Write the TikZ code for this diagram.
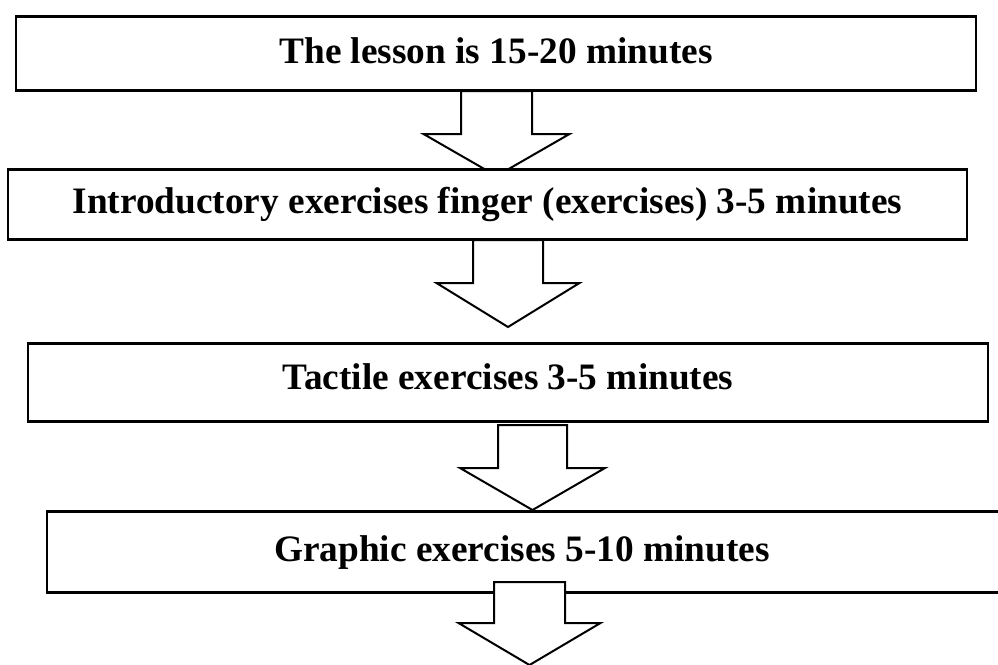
\documentclass[tikz,border=0pt]{standalone}
\usepackage{fontspec}
\setmainfont{Liberation Serif}
\begin{document}
\begin{tikzpicture}[x=1pt,y=-1pt,
  box/.style={draw=black, fill=white, line width=2.6pt, inner sep=0pt},
  lbl/.style={anchor=base, inner sep=0pt, font=\fontsize{37.3}{42}\selectfont\bfseries},
  blockarrow/.style={draw=black, fill=white, line width=2pt, line join=miter}]
\clip (0,0) rectangle (998,664);
\fill[white] (0,0) rectangle (998,664);
% arrows beneath boxes
\newcommand{\barrow}[7]{% cx, top, shoulder, tip, shafthalf, headhalf, name
  \draw[blockarrow] (#1-#5,#2) -- (#1-#5,#3) -- (#1-#6,#3) -- (#1,#4) -- (#1+#6,#3) -- (#1+#5,#3) -- (#1+#5,#2) -- cycle;
  \coordinate (#7) at (#1,#4);}
\barrow{496.5}{91}{134}{176}{35.5}{73}{a1}
\barrow{508}{240}{283}{327}{35}{71.5}{a2}
\barrow{532.5}{425}{468}{510}{34.5}{72.5}{a3}
% boxes
\node[box, minimum width=960pt, minimum height=74pt] (b1) at (496,53.5) {};
\node[box, minimum width=959pt, minimum height=70pt] (b2) at (487.5,204.5) {};
\node[box, minimum width=960pt, minimum height=78pt] (b3) at (508,382.5) {};
\node[box, minimum width=980pt, minimum height=81pt] (b4) at (537,552) {};
% last arrow over box 4
\barrow{529.5}{582}{623}{665}{35.5}{71}{a4}
% texts
\node[lbl] (t1) at (496,63) {The lesson is 15-20 minutes};
\node[lbl] (t2) at (487.5,213) {Introductory exercises finger (exercises) 3-5 minutes};
\node[lbl] (t3) at (508,389) {Tactile exercises 3-5 minutes};
\node[lbl] (t4) at (522,561) {Graphic exercises 5-10 minutes};
\end{tikzpicture}
\end{document}
